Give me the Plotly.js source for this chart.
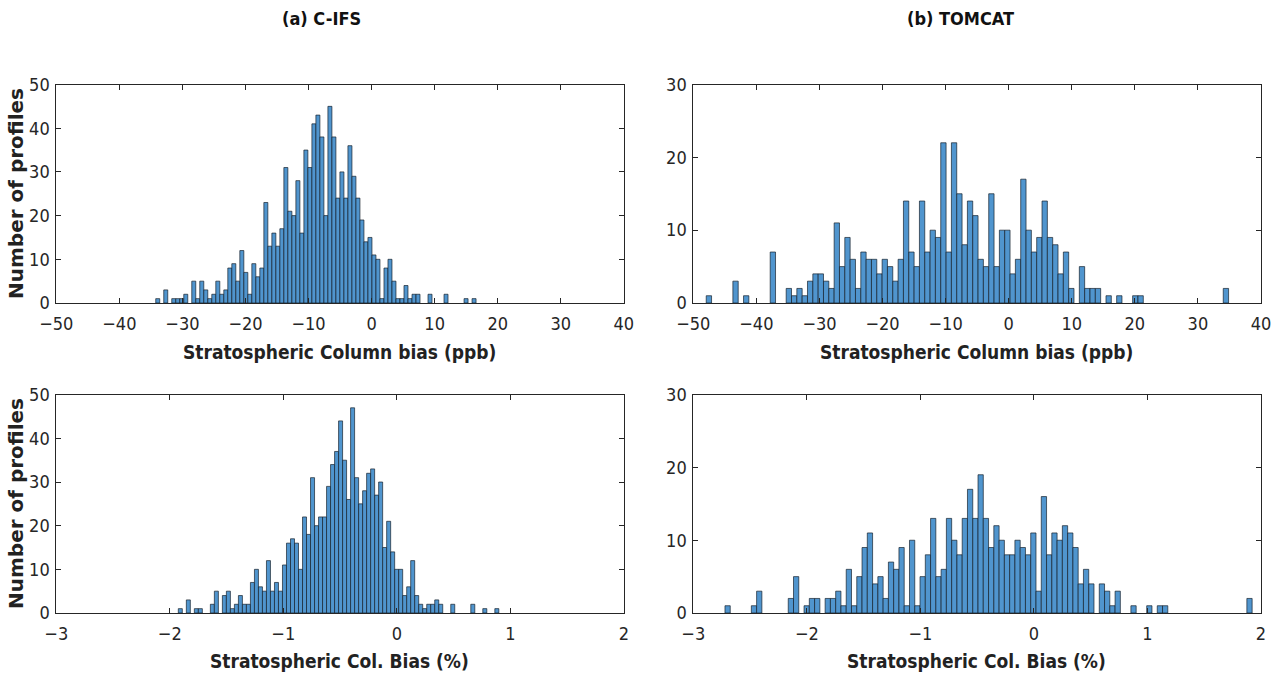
<!DOCTYPE html>
<html>
<head>
<meta charset="utf-8">
<script src="https://cdn.plot.ly/plotly-3.0.1.min.js"></script>
<style>
html,body{margin:0;padding:0;background:#fff;}
#chart{width:1284px;height:675px;}
</style>
</head>
<body>
<div id="chart"></div>
<script>
// ---- Data (histogram bins: first edge, bin width, counts) ----
const panelTitles = ["(a) C-IFS", "(b) TOMCAT"];
const yTitle = "Number of profiles";
const xTitleTop = "Stratospheric Column bias (ppb)";
const xTitleBottom = "Stratospheric Col. Bias (%)";

// (a) C-IFS, column bias (ppb)
const cifsPpbStart = -34.23;
const cifsPpbWidth = 0.635;
const cifsPpbCounts = [1,0,3,0,1,1,1,2,0,5,1,5,3,1,2,5,2,3,8,9,5,12,7,2,9,6,8,23,13,16,13,17,31,21,20,28,16,35,31,
  41,43,38,20,45,38,24,30,24,36,29,24,19,14,15,11,10,1,8,10,5,1,1,4,1,2,2,0,0,2,0,0,0,2,0,0,0,0,1,0,1];

// (b) TOMCAT, column bias (ppb)
const tomPpbStart = -47.95;
const tomPpbWidth = 0.845;
const tomPpbCounts = [1,0,0,0,0,3,0,1,0,0,0,0,7,0,0,2,1,2,1,3,
  4,4,3,2,11,5,9,6,2,7,6,6,4,6,5,3,6,14,7,5,
  14,7,10,9,22,7,22,15,8,14,12,6,5,15,5,10,10,4,6,17,
  10,7,9,14,9,8,4,7,2,0,5,2,2,2,0,1,0,1,0,0,
  1,1,0,0,0,0,0,0,0,0,0,0,0,0,0,0,0,2];

// (a) C-IFS, column bias (%)
const cifsPctStart = -1.925;
const cifsPctWidth = 0.0353;
const cifsPctCounts = [1,0,3,0,1,1,0,0,2,5,0,4,5,1,2,4,2,2,7,10,
  6,5,12,5,7,5,11,16,17,16,10,22,18,31,20,22,22,29,34,37,
  44,35,26,47,31,25,28,32,33,27,30,15,21,14,10,10,4,6,12,4,
  2,1,2,2,3,2,0,0,2,0,0,0,0,2,0,0,1,0,0,1];

// (b) TOMCAT, column bias (%)
const tomPctStart = -2.721;
const tomPctWidth = 0.04643;
const tomPctCounts = [1,0,0,0,0,1,3,0,0,0,0,0,2,5,0,1,2,2,0,2,
  2,3,1,6,1,5,9,11,4,5,2,7,6,9,1,10,1,5,8,13,
  5,6,13,10,8,13,17,13,19,13,9,12,10,8,8,10,9,8,11,3,
  16,8,11,10,12,11,9,4,6,4,0,4,3,1,3,0,0,1,0,0,
  1,0,1,1,0,0,0,0,0,0,0,0,0,0,0,0,0,0,0,2];

// ---- Styling ----
const W = 1284, H = 675;
const barFill = 'rgb(80,149,206)';
const barEdge = 'rgba(20,30,40,0.85)';
const axisColor = '#262626';
const narrow = '"Liberation Sans Narrow", "DejaVu Sans Condensed", "Open Sans", sans-serif';

function histTrace(counts, start, width, xa, ya) {
  const centers = counts.map((_, i) => start + (i + 0.5) * width);
  return {
    type: 'bar', x: centers, y: counts.map(c => c === 0 ? null : c),
    width: width, xaxis: xa, yaxis: ya,
    marker: {color: barFill, line: {color: barEdge, width: 0.8}},
    hoverinfo: 'x+y', showlegend: false
  };
}

const traces = [
  histTrace(cifsPpbCounts, cifsPpbStart, cifsPpbWidth, 'x', 'y'),
  histTrace(tomPpbCounts, tomPpbStart, tomPpbWidth, 'x2', 'y2'),
  histTrace(cifsPctCounts, cifsPctStart, cifsPctWidth, 'x3', 'y3'),
  histTrace(tomPctCounts, tomPctStart, tomPctWidth, 'x4', 'y4')
];

const px = v => v / W;
const py = v => 1 - v / H;
const colL = [px(56.3), px(623.8)];
const colR = [px(693.3), px(1261)];
const rowT = [py(303), py(84.5)];
const rowB = [py(613), py(394.7)];

function xax(domain, anchor, range, dtick) {
  return {
    domain: domain, anchor: anchor, range: range, dtick: dtick, tick0: 0,
    ticks: 'inside', ticklen: 5, tickwidth: 1, tickcolor: axisColor,
    showline: true, linecolor: axisColor, linewidth: 1, mirror: 'ticks',
    showgrid: false, zeroline: false, fixedrange: true,
    tickfont: {family: narrow, size: 18, color: axisColor},
    ticklabelstandoff: 4
  };
}
function yax(domain, anchor, range, dtick) {
  return {
    domain: domain, anchor: anchor, range: range, dtick: dtick, tick0: 0,
    ticks: 'inside', ticklen: 5, tickwidth: 1, tickcolor: axisColor,
    showline: true, linecolor: axisColor, linewidth: 1, mirror: 'ticks',
    showgrid: false, zeroline: false, fixedrange: true,
    tickfont: {family: narrow, size: 18, color: axisColor},
    ticklabelstandoff: 2
  };
}

const annFontTitle = {family: narrow, size: 18, color: '#111', weight: 'bold'};
const annFontX = {family: narrow, size: 19, color: '#222', weight: 'bold'};
const annFontY = {family: '"DejaVu Sans", sans-serif', size: 20, color: '#222', weight: 'bold'};

function ann(text, x, y, font, angle) {
  return {text: text, x: x, y: y, xref: 'paper', yref: 'paper', showarrow: false,
          xanchor: 'center', yanchor: 'middle', font: font, textangle: angle || 0};
}

const layout = {
  width: W, height: H,
  margin: {l: 0, r: 0, t: 0, b: 0},
  paper_bgcolor: '#fff', plot_bgcolor: '#fff',
  bargap: 0, barmode: 'overlay',
  showlegend: false,
  xaxis: xax(colL, 'y', [-50, 40], 10),
  yaxis: yax(rowT, 'x', [0, 50], 10),
  xaxis2: xax(colR, 'y2', [-50, 40], 10),
  yaxis2: yax(rowT, 'x2', [0, 30], 10),
  xaxis3: xax(colL, 'y3', [-3, 2], 1),
  yaxis3: yax(rowB, 'x3', [0, 50], 10),
  xaxis4: xax(colR, 'y4', [-3, 2], 1),
  yaxis4: yax(rowB, 'x4', [0, 30], 10),
  annotations: [
    ann(panelTitles[0], px(322), py(19), annFontTitle),
    ann(panelTitles[1], px(960), py(19), annFontTitle),
    ann(xTitleTop, px(340), py(352), annFontX),
    ann(xTitleTop, px(977), py(352), annFontX),
    ann(xTitleBottom, px(340), py(661), annFontX),
    ann(xTitleBottom, px(977), py(661), annFontX),
    ann(yTitle, px(16), py(194), annFontY, -90),
    ann(yTitle, px(16), py(504), annFontY, -90)
  ]
};

Plotly.newPlot('chart', traces, layout, {staticPlot: true, displayModeBar: false});
</script>
</body>
</html>
